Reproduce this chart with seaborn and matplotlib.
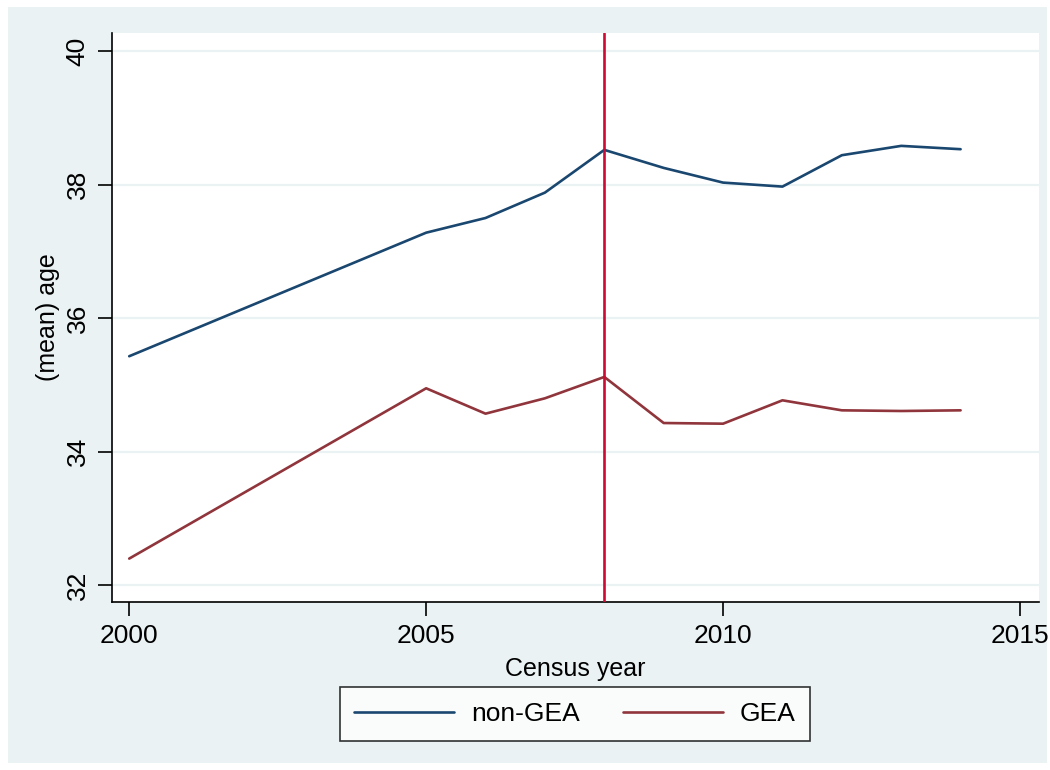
import pandas as pd
import matplotlib.pyplot as plt
import seaborn as sns
from matplotlib.patches import Rectangle

# 연도별 평균 연령
years = [2000, 2005, 2006, 2007, 2008, 2009, 2010, 2011, 2012, 2013, 2014]
non_gea = [35.43, 37.28, 37.50, 37.88, 38.52, 38.25, 38.03, 37.97, 38.44, 38.58, 38.53]
gea = [32.40, 34.95, 34.57, 34.80, 35.12, 34.43, 34.42, 34.77, 34.62, 34.61, 34.62]
groups = ["non-GEA", "GEA"]
colors = ["#1A476F", "#90353B"]
y_ticks = [32, 34, 36, 38, 40]
x_ticks = [2000, 2005, 2010, 2015]
cutoff_year = 2008

df = pd.DataFrame({
    "year": years * 2,
    "age": non_gea + gea,
    "group": [groups[0]] * len(years) + [groups[1]] * len(years),
})

sns.set_style("white")
plt.rcParams["font.family"] = ["Liberation Sans", "DejaVu Sans"]
plt.rcParams["text.color"] = "black"
plt.rcParams["axes.labelcolor"] = "black"
plt.rcParams["xtick.color"] = "black"
plt.rcParams["ytick.color"] = "black"

W, H = 1050, 770
fig = plt.figure(figsize=(W / 100, H / 100), dpi=100, facecolor="white")
fig.patches.append(Rectangle((8 / W, 7 / H), 1039 / W, 756 / H,
                             transform=fig.transFigure, facecolor="#EAF2F3",
                             edgecolor="none", zorder=-10))

ax = fig.add_axes([112 / W, (H - 602) / H, (1039 - 112) / W, (602 - 33) / H])
ax.set_facecolor("white")

for y in y_ticks:
    ax.axhline(y, color="#EAF2F3", lw=1.6, zorder=0)

sns.lineplot(data=df, x="year", y="age", hue="group", hue_order=groups,
             palette=colors, lw=1.9, ax=ax, legend=False)
ax.axvline(cutoff_year, color="#CC0A33", lw=1.9, zorder=3)

ax.set_xlim(1999.71, 2015.32)
ax.set_ylim(31.75, 40.27)
ax.set_xticks(x_ticks)
ax.set_yticks(y_ticks)
ax.tick_params(axis="both", direction="out", length=10, width=1.2,
               color="black", labelcolor="black", labelsize=19, pad=6,
               left=True, bottom=True)
plt.setp(ax.get_yticklabels(), rotation=90, va="center")

for s in ["top", "right"]:
    ax.spines[s].set_visible(False)
for s in ["left", "bottom"]:
    ax.spines[s].set_color("black")
    ax.spines[s].set_linewidth(1.2)

ax.set_xlabel("Census year", fontsize=18, labelpad=6, color="black")
ax.set_ylabel("(mean) age", fontsize=18, labelpad=4, color="black")

handles = [plt.Line2D([], [], color=c, lw=1.9) for c in colors]
leg = fig.legend(handles, groups, loc="center", ncol=2,
                 bbox_to_anchor=(575 / W, 1 - 714 / H), fontsize=19,
                 frameon=True, fancybox=False, handlelength=3.8,
                 handletextpad=0.65, columnspacing=1.6, borderpad=0.55)
leg.get_frame().set_edgecolor("black")
leg.get_frame().set_linewidth(1.2)
leg.get_frame().set_facecolor("white")
for t in leg.get_texts():
    t.set_color("black")

fig.savefig("out.png", dpi=100, facecolor="white")
